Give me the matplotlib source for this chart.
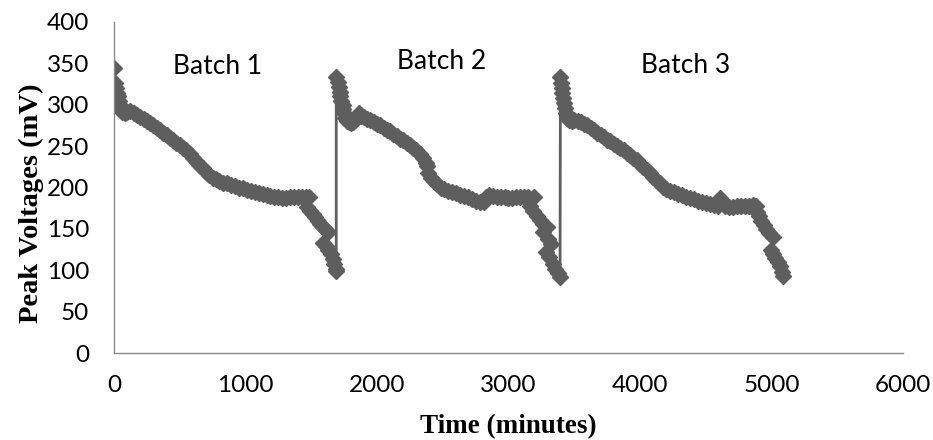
import matplotlib
matplotlib.use("Agg")
import matplotlib.pyplot as plt

# 读图估计的数据：时间 (min) 与峰值电压 (mV)，三个批次连成一条曲线
batch1_time = [0, 8, 15, 22, 30, 38, 45, 52, 60, 80, 100, 125, 150, 175, 200, 225, 250, 275,
               300, 325, 350, 375, 400, 425, 450, 475, 500, 525, 550, 575, 600, 625, 650,
               675, 700, 725, 750, 775, 800, 830, 860, 890, 920, 950, 980, 1010, 1040, 1070,
               1100, 1130, 1160, 1190, 1220, 1250, 1280, 1310, 1340, 1370, 1400, 1430, 1460,
               1485, 1470, 1490, 1510, 1530, 1550, 1570, 1590, 1610, 1630,
               1590, 1610, 1630, 1650, 1665, 1675, 1685, 1690]
batch1_mv = [344, 326, 320, 314, 310, 305, 300, 295, 291, 290, 291, 292, 290, 288, 285, 283, 280, 278,
             275, 272, 269, 266, 263, 260, 257, 254, 251, 248, 245, 241, 236, 232, 227,
             223, 219, 215, 212, 210, 208, 206, 205, 203, 202, 200, 199, 197, 196, 195,
             193, 192, 191, 190, 189, 188, 187, 187, 188, 189, 189, 188, 189,
             188, 176, 172, 168, 164, 160, 156, 152, 149, 146,
             133, 129, 125, 120, 114, 108, 102, 99]

batch2_time = [1690, 1700, 1708, 1715, 1722, 1730, 1738, 1745, 1752, 1760, 1770, 1785, 1800, 1815,
               1830, 1845, 1860, 1880, 1900, 1925, 1950, 1975, 2000, 2025, 2050, 2075, 2100,
               2125, 2150, 2175, 2200, 2225, 2250, 2275, 2300, 2325, 2350, 2375, 2382, 2390,
               2410, 2435, 2460, 2485, 2510, 2540, 2570, 2600, 2630, 2660, 2690, 2720, 2750,
               2780, 2810, 2830, 2850, 2880, 2910, 2940, 2970, 3000, 3030, 3060, 3090, 3120,
               3150, 3195, 3165, 3190, 3215, 3240, 3265, 3290, 3265, 3300, 3320,
               3285, 3310, 3335, 3355, 3375, 3392]
batch2_mv = [334, 328, 322, 316, 310, 305, 300, 295, 290, 284, 280, 279, 278, 279,
             282, 287, 290, 287, 285, 283, 281, 279, 277, 275, 272, 270, 268,
             265, 262, 259, 257, 254, 251, 248, 245, 240, 236, 230, 226, 217,
             212, 208, 204, 200, 198, 196, 195, 193, 191, 190, 188, 186, 184,
             183, 182, 188, 191, 190, 189, 188, 188, 187, 187, 188, 189, 188,
             188, 189, 178, 172, 166, 161, 156, 152, 146, 138, 132,
             122, 116, 108, 102, 97, 92]

batch3_time = [3395, 3400, 3405, 3410, 3418, 3425, 3432, 3440, 3448, 3460, 3480, 3500, 3525, 3550,
               3575, 3600, 3625, 3650, 3675, 3700, 3725, 3750, 3775, 3800, 3825, 3850, 3875,
               3900, 3925, 3950, 3975, 4000, 4025, 4050, 4075, 4100, 4125, 4150, 4175, 4200,
               4230, 4260, 4290, 4320, 4350, 4380, 4410, 4440, 4470, 4500, 4530, 4560, 4590,
               4610, 4630, 4650, 4680, 4710, 4740, 4770, 4800, 4830, 4860, 4885,
               4890, 4905, 4920, 4940, 4960, 4985, 5010,
               4995, 5010, 5030, 5050, 5065, 5080, 5090]
batch3_mv = [333, 326, 320, 314, 308, 302, 296, 290, 284, 281, 280, 281, 280, 279,
             277, 275, 272, 269, 266, 264, 261, 258, 256, 253, 250, 248, 245,
             242, 239, 236, 233, 229, 225, 221, 217, 213, 209, 205, 201, 198,
             196, 194, 192, 191, 189, 187, 186, 184, 183, 181, 180, 179, 178,
             187, 182, 178, 177, 177, 178, 178, 178, 178, 179, 178,
             170, 165, 160, 155, 150, 145, 140,
             125, 120, 115, 110, 105, 98, 93]

batch_names = ["Batch 1", "Batch 2", "Batch 3"]
batch_label_x = [790, 2490, 4350]
batch_label_y = [346, 352, 347]

x_ticks = [0, 1000, 2000, 3000, 4000, 5000, 6000]
y_ticks = [0, 50, 100, 150, 200, 250, 300, 350, 400]

time = batch1_time + batch2_time + batch3_time
mv = batch1_mv + batch2_mv + batch3_mv

fig = plt.figure(figsize=(9.33, 4.4), dpi=100)
ax = fig.add_axes([0.1222, 0.1977, 0.8456, 0.7523])

grey = "#5e5e5e"
ax.plot(time, mv, color=grey, linewidth=2, marker="D", markersize=8,
        markerfacecolor=grey, markeredgecolor=grey, markeredgewidth=1)

for name, bx, by in zip(batch_names, batch_label_x, batch_label_y):
    ax.text(bx, by, name, ha="center", va="center", fontsize=19, family="Lato", color="black")

ax.set_xlim(0, 6000)
ax.set_ylim(0, 400)
ax.set_xticks(x_ticks)
ax.set_yticks(y_ticks)
ax.tick_params(axis="both", length=0, labelsize=17.5, colors="black")
ax.tick_params(axis="x", pad=16)
ax.tick_params(axis="y", pad=18)
for lab in ax.get_xticklabels() + ax.get_yticklabels():
    lab.set_family("Lato")

for side in ["top", "right"]:
    ax.spines[side].set_visible(False)
for side in ["left", "bottom"]:
    ax.spines[side].set_color("#898989")
    ax.spines[side].set_linewidth(1)

ax.set_xlabel("Time (minutes)", family="Liberation Serif", fontweight="bold", fontsize=19.5, va="center")
ax.xaxis.set_label_coords(0.5, -0.2236)
ax.set_ylabel("Peak Voltages (mV)", family="Liberation Serif", fontweight="bold", fontsize=20.5,
              va="center", ha="center")
ax.yaxis.set_label_coords(-0.105, 0.453)

fig.savefig("out.png", dpi=100)
